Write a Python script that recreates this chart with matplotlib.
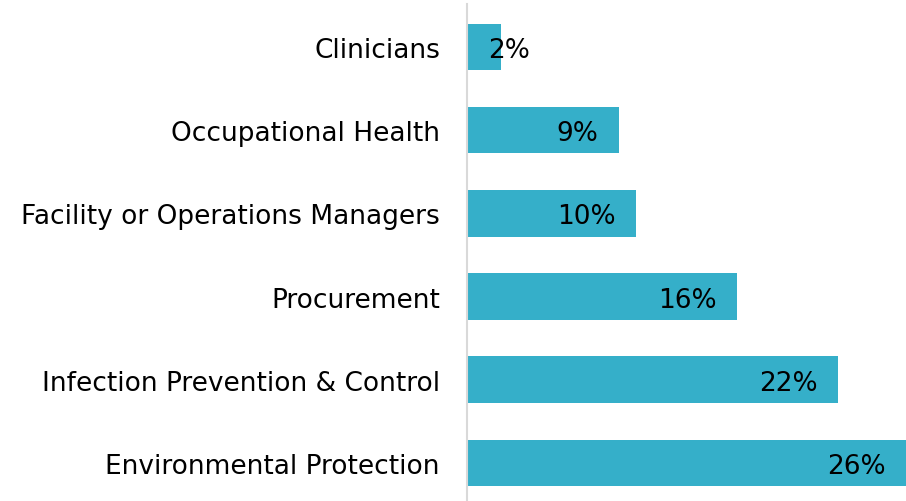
import matplotlib
matplotlib.use("Agg")
import matplotlib.pyplot as plt

plt.rcParams["font.family"] = ["DejaVu Sans"]

categories = ["Environmental Protection", "Infection Prevention & Control",
              "Procurement", "Facility or Operations Managers",
              "Occupational Health", "Clinicians"]
values = [26, 22, 16, 10, 9, 2]
labels = ["26%", "22%", "16%", "10%", "9%", "2%"]

fig = plt.figure(figsize=(9.06, 5.02), dpi=100)
ax = fig.add_axes([467 / 906, 0, 439 / 906, 497 / 502])

y = range(len(categories))
ax.barh(y, values, height=0.56, color="#35AFC9")

# value labels, right-aligned inside the bar end
for i, (v, lab) in enumerate(zip(values, labels)):
    xr = max(v - 1.2, 3.75)
    ax.text(xr, i, lab, ha="right", va="center_baseline", fontsize=19,
            color="black")

ax.set_xlim(0, 26)
ax.set_ylim(-0.457, 5.517)
ax.set_yticks(list(y))
ax.set_yticklabels(categories, fontsize=19)
ax.tick_params(axis="y", length=0, pad=19.5)
ax.set_xticks([])

for s in ["top", "right", "bottom"]:
    ax.spines[s].set_visible(False)
ax.spines["left"].set_color("#d9d9d9")
ax.spines["left"].set_linewidth(1.5)

fig.savefig("out.png", dpi=100)
